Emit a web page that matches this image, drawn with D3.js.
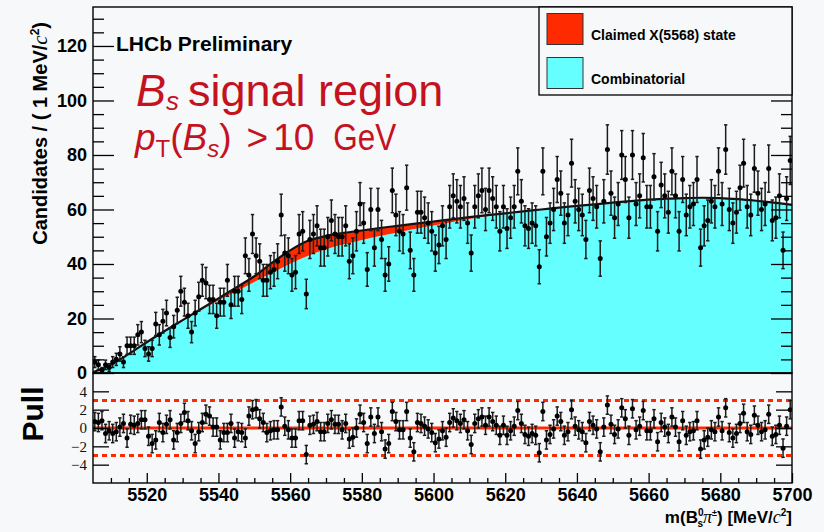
<!DOCTYPE html>
<html>
<head>
<meta charset="utf-8">
<script src="https://cdn.jsdelivr.net/npm/d3@7"></script>
<style>
  html, body { margin: 0; padding: 0; background: #f6f8fa; }
  svg { display: block; }
</style>
</head>
<body>
<svg id="chart" width="824" height="532"></svg>
<script>
// ---- data ------------------------------------------------------------
// m(Bs pi) histogram, 1 MeV bins starting at 5505 MeV
const binStart = 5505;
const counts = [
  4, 3, 1, 3, 2, 4, 5, 7, 4, 10,
  10, 10, 14, 15, 9, 7, 9, 18, 14, 19,
  22, 13, 17, 23, 30, 26, 21, 15, 22, 28,
  34, 33, 27, 27, 21, 26, 26, 34, 25, 30,
  30, 27, 43, 36, 51, 43, 41, 34, 34, 37,
  38, 41, 58, 44, 43, 36, 37, 51, 52, 29,
  49, 51, 54, 46, 46, 50, 56, 51, 50, 50,
  54, 41, 43, 52, 62, 55, 38, 60, 46, 60,
  49, 36, 40, 67, 58, 52, 51, 68, 45, 36,
  59, 59, 57, 55, 52, 44, 47, 54, 49, 61,
  65, 63, 61, 64, 55, 44, 61, 65, 67, 60,
  67, 64, 61, 52, 61, 53, 57, 61, 74, 63,
  54, 53, 55, 54, 39, 74, 50, 55, 60, 71,
  66, 55, 58, 77, 63, 60, 58, 49, 67, 64,
  61, 42, 63, 82, 66, 57, 62, 80, 71, 57,
  80, 62, 65, 79, 61, 61, 72, 52, 69, 65,
  59, 74, 65, 52, 71, 58, 61, 62, 71, 46,
  54, 56, 63, 61, 74, 62, 82, 60, 55, 59,
  68, 77, 61, 58, 75, 66, 60, 62, 75, 56,
  57, 65, 45, 64, 78
];

// fit residuals per bin (pull units)
const pulls = [
  0.7, 0.6, 0.8, -0.6, -0.3, -0.6, -0.4, 0.1, 0.5, -1.1,
  0.4, 0.3, 0.5, 0.9, 0.9, -0.9, -1.7, -1.3, 0.6, -0.5,
  0.4, 0.9, -1.3, -0.5, 0.5, 1.7, 0.8, -0.3, -1.7, -0.4,
  0.6, 1.5, 1.3, 0.1, 0.1, -1.3, -0.5, -0.5, 0.5, -1.1,
  -0.4, -0.5, -1.1, 1.3, 2.0, 2.1, 1.0, 0.6, -0.5, -0.3,
  -0.2, -0.2, 2.3, 0.2, -0.2, -1.1, -1.1, 0.8, 0.8, -2.9,
  0.3, 0.4, 0.7, -0.4, -0.4, 0.5, 0.9, 0.4, 0.4, -0.2,
  0.5, -1.2, -1.0, 0.0, 1.5, 0.6, -1.7, 1.2, -0.6, 1.2,
  -0.4, -2.3, -1.7, 1.8, 0.7, -0.2, -0.2, 1.8, -1.1, -2.6,
  0.6, 0.5, 0.2, -0.1, -0.5, -1.6, -1.2, -0.3, -1.0, 0.6,
  1.1, 0.8, 0.5, 0.9, -0.3, -1.8, 0.5, 1.0, 1.2, 0.3,
  1.2, 0.7, 0.3, -0.8, 0.3, -0.8, -0.3, 0.2, 1.9, 0.5,
  -0.7, -0.9, -0.6, -0.8, -2.7, 1.8, -1.3, -0.7, -0.1, 1.3,
  0.7, -0.8, -0.4, 2.0, 0.2, -0.2, -0.4, -1.6, 0.7, 0.3,
  -0.1, -2.6, 0.1, 2.5, 0.4, -0.7, -0.1, 2.2, 1.0, -0.8,
  2.1, -0.2, 0.2, 1.9, -0.3, -0.3, 1.0, -1.5, 0.6, 0.1,
  -0.6, 1.2, 0.1, -1.5, 0.8, -0.8, -0.4, -0.3, 0.8, -2.3,
  -1.3, -1.0, -0.2, -0.4, 1.2, -0.3, 2.2, -0.5, -1.1, -0.6,
  0.5, 1.6, -0.4, -0.7, 1.4, 0.3, -0.4, -0.2, 1.5, -0.9,
  -0.7, 0.3, -2.2, 0.2, 2.0
];

// fit model sampled every 5 MeV
const fitMass = [
  5505, 5510, 5515, 5520, 5525, 5530, 5535, 5540, 5545, 5550,
  5555, 5560, 5565, 5570, 5575, 5580, 5585, 5590, 5595, 5600,
  5605, 5610, 5615, 5620, 5625, 5630, 5635, 5640, 5645, 5650,
  5655, 5660, 5665, 5670, 5675, 5680, 5685, 5690, 5695, 5700
];
const fitTotal = [
  0.3, 3.0, 7.0, 11.3, 15.4, 19.4, 23.4, 27.4, 31.4, 35.5,
  40.5, 45.0, 48.5, 50.3, 51.4, 52.3, 53.2, 54.0, 54.8, 55.6,
  56.4, 57.2, 57.9, 58.6, 59.3, 60.0, 60.7, 61.3, 61.9, 62.5,
  63.1, 63.6, 64.0, 64.2, 64.3, 64.2, 63.8, 63.2, 62.5, 61.7
];
const fitCombinatorial = [
  0.3, 3.0, 7.0, 11.2, 15.2, 19.1, 22.9, 26.6, 30.0, 33.4,
  36.8, 40.1, 43.0, 45.4, 47.2, 48.8, 50.3, 51.6, 52.9, 54.1,
  55.3, 56.5, 57.5, 58.4, 59.2, 60.0, 60.7, 61.3, 61.9, 62.5,
  63.1, 63.6, 64.0, 64.2, 64.3, 64.2, 63.8, 63.2, 62.5, 61.7
];

const yTicks = [0, 20, 40, 60, 80, 100, 120];
const xTicks = [5520, 5540, 5560, 5580, 5600, 5620, 5640, 5660, 5680, 5700];
const pullTicks = [-4, -2, 0, 2, 4];
const pullBands = [-3, 3];
const legendLabels = ["Claimed X(5568) state", "Combinatorial"];

// ---- layout ----------------------------------------------------------
const COL_SIG = "#ff2a00", COL_BKG = "#66ffff", COL_TXT = "#c4121f";
const L = 93, R = 792, T = 7, MID = 373, B = 483;
const BOLD = "'Liberation Sans', Arial, Helvetica, sans-serif";
const SERIF = "'Liberation Serif', 'Times New Roman', serif";

const svg = d3.select("#chart");
svg.append("rect").attr("width", 824).attr("height", 532).attr("fill", "#f6f8fa");

const x = d3.scaleLinear().domain([5505, 5700]).range([L, R]);
const y = d3.scaleLinear().domain([0, 134.3]).range([MID, T]);
const yp = d3.scaleLinear().domain([-6, 6]).range([B, MID]);

const bins = counts.map((n, i) => ({ m: binStart + i + 0.5, n, p: pulls[i] }));
const fit = fitMass.map((m, i) => ({ m, tot: fitTotal[i], bkg: fitCombinatorial[i] }));

const defs = svg.append("defs");
defs.append("clipPath").attr("id", "clipMain")
  .append("rect").attr("x", L).attr("y", T).attr("width", R - L).attr("height", MID - T);
defs.append("clipPath").attr("id", "clipPull")
  .append("rect").attr("x", L).attr("y", MID).attr("width", R - L).attr("height", B - MID);

// ---- main panel ------------------------------------------------------
const main = svg.append("g").attr("clip-path", "url(#clipMain)");

main.append("path").datum(fit)
  .attr("fill", COL_BKG)
  .attr("d", d3.area().x(d => x(d.m)).y0(y(0)).y1(d => y(d.bkg)).curve(d3.curveMonotoneX));
main.append("path").datum(fit)
  .attr("fill", COL_SIG)
  .attr("d", d3.area().x(d => x(d.m)).y0(d => y(d.bkg)).y1(d => y(d.tot)).curve(d3.curveMonotoneX));
main.append("path").datum(fit)
  .attr("fill", "none").attr("stroke", "#111").attr("stroke-width", 2.2)
  .attr("d", d3.line().x(d => x(d.m)).y(d => y(d.tot)).curve(d3.curveMonotoneX));

function drawPoints(g, data, yScale, val, err) {
  const pts = g.append("g");
  const lo = yScale.domain()[0];
  const eb = pts.selectAll("g.eb").data(data).join("g").attr("class", "eb")
    .attr("stroke", "#1c1c1c").attr("stroke-width", 1.5);
  eb.append("line")
    .attr("x1", d => x(d.m)).attr("x2", d => x(d.m))
    .attr("y1", d => yScale(val(d) + err(d))).attr("y2", d => yScale(Math.max(val(d) - err(d), lo)));
  eb.append("line")
    .attr("x1", d => x(d.m) - 1.7).attr("x2", d => x(d.m) + 1.7)
    .attr("y1", d => yScale(val(d) + err(d))).attr("y2", d => yScale(val(d) + err(d)));
  eb.append("line")
    .attr("x1", d => x(d.m) - 1.7).attr("x2", d => x(d.m) + 1.7)
    .attr("y1", d => yScale(val(d) - err(d))).attr("y2", d => yScale(val(d) - err(d)));
  pts.selectAll("circle").data(data).join("circle")
    .attr("cx", d => x(d.m)).attr("cy", d => yScale(val(d))).attr("r", 2.5).attr("fill", "#000");
}
drawPoints(main, bins, y, d => d.n, d => Math.sqrt(d.n));

// ---- pull panel ------------------------------------------------------
const pull = svg.append("g").attr("clip-path", "url(#clipPull)");
pull.selectAll("line.band").data(pullBands).join("line").attr("class", "band")
  .attr("x1", L).attr("x2", R).attr("y1", d => yp(d)).attr("y2", d => yp(d))
  .attr("stroke", COL_SIG).attr("stroke-width", 3).attr("stroke-dasharray", "5,4");
pull.append("line")
  .attr("x1", L).attr("x2", R).attr("y1", yp(0)).attr("y2", yp(0))
  .attr("stroke", COL_SIG).attr("stroke-width", 3.2);
drawPoints(pull, bins, yp, d => d.p, () => 1);

// ---- frames & axes ---------------------------------------------------
svg.append("rect").attr("x", L).attr("y", T).attr("width", R - L).attr("height", MID - T)
  .attr("fill", "none").attr("stroke", "#000").attr("stroke-width", 1.4);
svg.append("rect").attr("x", L).attr("y", MID).attr("width", R - L).attr("height", B - MID)
  .attr("fill", "none").attr("stroke", "#000").attr("stroke-width", 1.4);

function styleAxis(g) {
  g.select(".domain").remove();
  g.selectAll(".tick line").attr("stroke", "#000").attr("stroke-width", 1.3);
}
function boldLabels(size) {
  return g => g.selectAll("text").attr("font-family", BOLD).attr("font-weight", "bold")
    .attr("font-size", size).attr("fill", "#000");
}
const yMinor = d3.range(0, 134, 5).filter(v => v % 20 !== 0);
svg.append("g").attr("transform", `translate(${L},0)`)
  .call(d3.axisLeft(y).tickValues(yTicks).tickSizeInner(-21).tickSizeOuter(0).tickPadding(6)
    .tickFormat(d3.format("d")))
  .call(styleAxis).call(boldLabels(18));
svg.append("g").attr("transform", `translate(${L},0)`)
  .call(d3.axisLeft(y).tickValues(yMinor).tickSize(-11).tickFormat(""))
  .call(styleAxis);
svg.append("g").attr("transform", `translate(${R},0)`)
  .call(d3.axisRight(y).tickValues(yTicks.concat(yMinor)).tickSize(-11).tickFormat(""))
  .call(styleAxis)
  .call(g => g.selectAll(".tick").filter(d => d % 20 === 0).select("line").attr("x2", -21));

svg.append("g").attr("transform", `translate(${L},0)`)
  .call(d3.axisLeft(yp).tickValues(pullTicks).tickSizeInner(-16).tickSizeOuter(0).tickPadding(6)
    .tickFormat(d3.format("d")))
  .call(styleAxis)
  .call(g => g.selectAll("text").attr("font-family", SERIF).attr("font-size", 15).attr("fill", "#111"));
svg.append("g").attr("transform", `translate(${R},0)`)
  .call(d3.axisRight(yp).tickValues(pullTicks).tickSize(-16).tickFormat(""))
  .call(styleAxis);

const xMinor = d3.range(5510, 5700, 5).filter(v => v % 20 !== 0);
svg.append("g").attr("transform", `translate(0,${B})`)
  .call(d3.axisBottom(x).tickValues(xTicks).tickSizeInner(-10).tickSizeOuter(0).tickPadding(5)
    .tickFormat(d3.format("d")))
  .call(styleAxis).call(boldLabels(18));
svg.append("g").attr("transform", `translate(0,${B})`)
  .call(d3.axisBottom(x).tickValues(xMinor).tickSize(-5).tickFormat(""))
  .call(styleAxis);

// ---- axis titles -----------------------------------------------------
const xt = svg.append("text").attr("x", R).attr("y", 523).attr("text-anchor", "end")
  .attr("font-family", BOLD).attr("font-weight", "bold").attr("font-size", 17).attr("fill", "#000");
xt.append("tspan").text("m(B");
xt.append("tspan").attr("font-size", 10).attr("dy", -7).text("0");
xt.append("tspan").attr("font-size", 10).attr("dx", -6).attr("dy", 11).text("s");
xt.append("tspan").attr("font-family", SERIF).attr("font-style", "italic")
  .attr("font-weight", "normal").attr("font-size", 18).attr("dy", -4).text("π");
xt.append("tspan").attr("font-size", 9).attr("dy", -7).text("±");
xt.append("tspan").attr("dy", 7).text(") [MeV/");
xt.append("tspan").attr("font-family", SERIF).attr("font-style", "italic")
  .attr("font-weight", "normal").attr("font-size", 18).text("c");
xt.append("tspan").attr("font-size", 10).attr("dy", -7).text("2");
xt.append("tspan").attr("dy", 7).text("]");

const yt = svg.append("text").attr("transform", "translate(47,22) rotate(-90)").attr("text-anchor", "end")
  .attr("font-family", BOLD).attr("font-weight", "bold").attr("font-size", 20).attr("fill", "#000");
yt.append("tspan").text("Candidates / ( 1 MeV/");
yt.append("tspan").attr("font-family", SERIF).attr("font-style", "italic")
  .attr("font-weight", "normal").attr("font-size", 21).text("c");
yt.append("tspan").attr("font-size", 12).attr("dy", -8).text("2");
yt.append("tspan").attr("dy", 8).text(")");

svg.append("text").attr("transform", "translate(43,414) rotate(-90)").attr("text-anchor", "middle")
  .attr("font-family", BOLD).attr("font-weight", "bold").attr("font-size", 30).attr("fill", "#000")
  .text("Pull");

// ---- annotations -----------------------------------------------------
svg.append("text").attr("x", 116).attr("y", 51)
  .attr("font-family", BOLD).attr("font-weight", "bold").attr("font-size", 21).attr("fill", "#000")
  .text("LHCb Preliminary");

// selection label: two lines in a compact sans face
const line1 = svg.append("text").attr("x", 136).attr("y", 106)
  .attr("font-family", BOLD).attr("font-size", 45).attr("fill", COL_TXT);
line1.append("tspan").attr("font-style", "italic").text("B");
line1.append("tspan").attr("font-style", "italic").attr("font-size", 26).attr("dy", 4).text("s");
line1.append("tspan").attr("dy", -4).attr("dx", 9).text("signal region");

const line2 = svg.append("text").attr("x", 135).attr("y", 150)
  .attr("font-family", BOLD).attr("font-size", 37).attr("fill", COL_TXT);
line2.append("tspan").attr("font-style", "italic").text("p");
line2.append("tspan").attr("font-size", 24).attr("dy", 7).text("T");
line2.append("tspan").attr("dy", -7).text("(");
line2.append("tspan").attr("font-style", "italic").text("B");
line2.append("tspan").attr("font-size", 24).attr("font-style", "italic").attr("dy", 7).text("s");
line2.append("tspan").attr("dy", -7).text(")");
line2.append("tspan").attr("dx", 15).text(">");
line2.append("tspan").attr("dx", 5).text("10");
line2.append("tspan").attr("dx", 19).attr("textLength", 63).attr("lengthAdjust", "spacingAndGlyphs").text("GeV");

// ---- legend ----------------------------------------------------------
const leg = svg.append("g");
leg.append("rect").attr("x", 539).attr("y", T).attr("width", R - 539).attr("height", 88)
  .attr("fill", "#f6f8fa").attr("stroke", "#000").attr("stroke-width", 1.3);
const legColors = [COL_SIG, COL_BKG];
legendLabels.forEach((lab, i) => {
  const yy = 13.5 + i * 44;
  leg.append("rect").attr("x", 547).attr("y", yy).attr("width", 36).attr("height", 31)
    .attr("fill", legColors[i]).attr("stroke", "#333").attr("stroke-width", 1);
  leg.append("text").attr("x", 591).attr("y", yy + 26)
    .attr("font-family", BOLD).attr("font-weight", "bold").attr("font-size", 14).attr("fill", "#000")
    .text(lab);
});
</script>
</body>
</html>
